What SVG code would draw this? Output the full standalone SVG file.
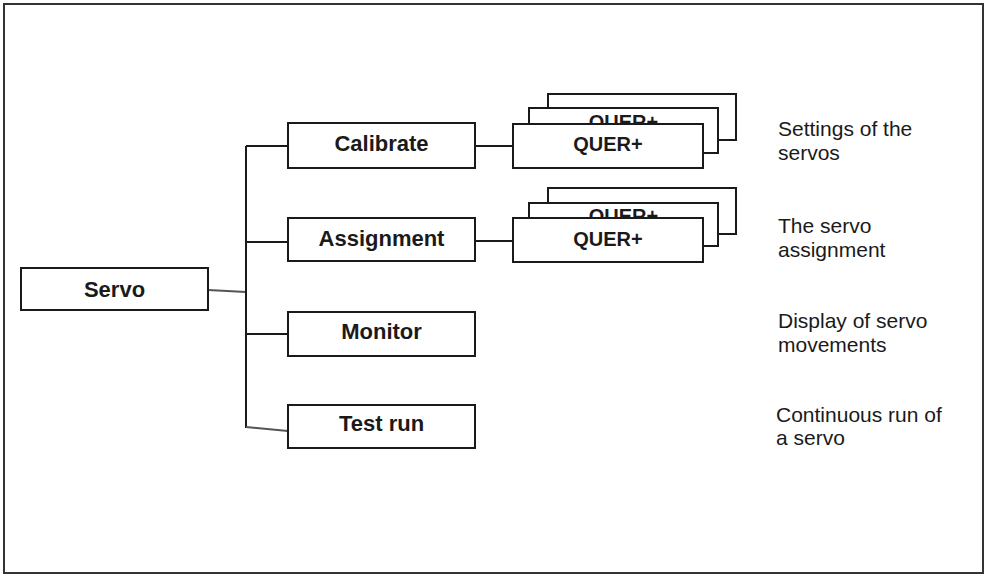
<svg xmlns="http://www.w3.org/2000/svg" width="985" height="576" viewBox="0 0 985 576">
<style>
.box{fill:#fff;stroke:#1a1a1a;stroke-width:2}
.lbl{font-family:"Liberation Sans",Arial,sans-serif;font-weight:bold;font-size:22px;fill:#1a1a1a;text-anchor:middle}
.q{font-family:"Liberation Sans",Arial,sans-serif;font-weight:bold;font-size:20px;fill:#1a1a1a;text-anchor:middle}
.note{font-family:"Liberation Sans",Arial,sans-serif;font-size:21px;fill:#1a1a1a}
.con{stroke:#1a1a1a;stroke-width:2;fill:none}
</style>
<rect x="0" y="0" width="985" height="576" fill="#fff"/>
<rect x="4" y="4" width="979" height="569" fill="#fff" stroke="#333" stroke-width="2"/>
<g id="connectors">
<line x1="208" y1="290" x2="246" y2="292" stroke="#555" stroke-width="2"/>
<line class="con" x1="246" y1="146" x2="246" y2="428"/>
<line class="con" x1="246" y1="146" x2="288" y2="146"/>
<line class="con" x1="246" y1="242" x2="288" y2="242"/>
<line class="con" x1="246" y1="334" x2="288" y2="334"/>
<line x1="246" y1="427" x2="288" y2="431" stroke="#555" stroke-width="2"/>
<line class="con" x1="475" y1="146" x2="513" y2="146"/>
<line class="con" x1="475" y1="241" x2="513" y2="241"/>
</g>
<g id="servo">
<rect class="box" x="21" y="268" width="187" height="42"/>
<text class="lbl" x="114.5" y="297">Servo</text>
</g>
<g id="calibrate">
<rect class="box" x="288" y="123" width="187" height="45"/>
<text class="lbl" x="381.5" y="151">Calibrate</text>
</g>
<g id="assignment">
<rect class="box" x="288" y="218" width="187" height="43"/>
<text class="lbl" x="381.5" y="246">Assignment</text>
</g>
<g id="monitor">
<rect class="box" x="288" y="312" width="187" height="44"/>
<text class="lbl" x="381.5" y="339">Monitor</text>
</g>
<g id="testrun">
<rect class="box" x="288" y="405" width="187" height="43"/>
<text class="lbl" x="381.5" y="431">Test run</text>
</g>
<g id="quer1">
<rect class="box" x="548" y="94" width="188" height="46"/>
<rect class="box" x="529" y="108" width="189" height="45"/>
<text class="q" x="623.5" y="129">QUER+</text>
<rect class="box" x="513" y="124" width="190" height="44"/>
<text class="q" x="608" y="151">QUER+</text>
</g>
<g id="quer2">
<rect class="box" x="548" y="188" width="188" height="46"/>
<rect class="box" x="529" y="203" width="189" height="43"/>
<text class="q" x="623.5" y="223">QUER+</text>
<rect class="box" x="513" y="218" width="190" height="44"/>
<text class="q" x="608" y="246">QUER+</text>
</g>
<g id="notes">
<text class="note" x="778" y="136">Settings of the</text>
<text class="note" x="778" y="160">servos</text>
<text class="note" x="778" y="233">The servo</text>
<text class="note" x="778" y="257">assignment</text>
<text class="note" x="778" y="328">Display of servo</text>
<text class="note" x="778" y="352">movements</text>
<text class="note" x="776" y="422">Continuous run of</text>
<text class="note" x="776" y="445">a servo</text>
</g>
</svg>
